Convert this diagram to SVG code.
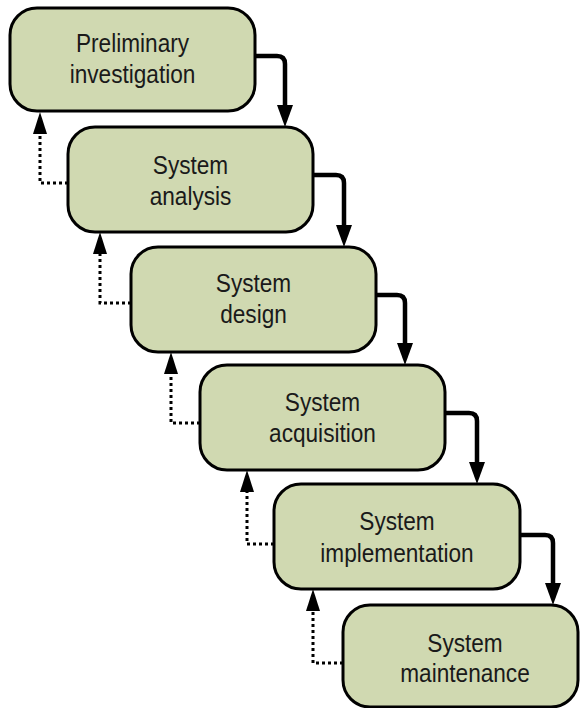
<svg xmlns="http://www.w3.org/2000/svg" width="580" height="708" viewBox="0 0 580 708">
  <defs>
    <style>
      .box { fill: #d0d9b1; stroke: #000; stroke-width: 3; }
      .lbl { font-family: "Liberation Sans", Arial, sans-serif; font-size: 26px; fill: #1a1a1a; text-anchor: middle; }
      .solid { fill: none; stroke: #000; stroke-width: 4.5; marker-end: url(#headSolid); }
      .dotted { fill: none; stroke: #000; stroke-width: 3; stroke-dasharray: 3 3; marker-end: url(#headDot); }
    </style>
    <marker id="headSolid" markerUnits="userSpaceOnUse" viewBox="0 0 22 16" markerWidth="22" markerHeight="16" refX="0" refY="8" orient="auto">
      <path d="M0,0 L22,8 L0,16 Z" fill="#000"/>
    </marker>
    <marker id="headDot" markerUnits="userSpaceOnUse" viewBox="0 0 22 14" markerWidth="22" markerHeight="14" refX="0" refY="7" orient="auto">
      <path d="M0,0 L22,7 L0,14 Z" fill="#000"/>
    </marker>
  </defs>
  <rect width="580" height="708" fill="#fff"/>

  <g id="connectors">
    <path class="solid" d="M255,56 H277 Q285,56 285,64 V105"/>
    <path class="solid" d="M313,175 H336 Q344,175 344,183 V225"/>
    <path class="solid" d="M376,295 H397 Q405,295 405,303 V343"/>
    <path class="solid" d="M445,413 H469 Q477,413 477,421 V462"/>
    <path class="solid" d="M520,535 H545 Q553,535 553,543 V583"/>
    <path class="dotted" d="M68,183 H40 V134"/>
    <path class="dotted" d="M131,303 H100 V254"/>
    <path class="dotted" d="M200,423 H171 V374"/>
    <path class="dotted" d="M274,544 H247 V492"/>
    <path class="dotted" d="M343,663 H313 V611"/>
  </g>

  <g id="preliminary-investigation">
    <rect class="box" x="10" y="8" width="245" height="103" rx="27"/>
    <text class="lbl" transform="translate(132.5,52) scale(0.87,1)">Preliminary</text>
    <text class="lbl" transform="translate(132.5,83) scale(0.87,1)">investigation</text>
  </g>
  <g id="system-analysis">
    <rect class="box" x="68" y="127" width="245" height="105" rx="27"/>
    <text class="lbl" transform="translate(190.5,174) scale(0.87,1)">System</text>
    <text class="lbl" transform="translate(190.5,205) scale(0.87,1)">analysis</text>
  </g>
  <g id="system-design">
    <rect class="box" x="131" y="247" width="245" height="105" rx="27"/>
    <text class="lbl" transform="translate(253.5,292) scale(0.87,1)">System</text>
    <text class="lbl" transform="translate(253.5,323) scale(0.87,1)">design</text>
  </g>
  <g id="system-acquisition">
    <rect class="box" x="200" y="365" width="245" height="105" rx="27"/>
    <text class="lbl" transform="translate(322.5,411) scale(0.87,1)">System</text>
    <text class="lbl" transform="translate(322.5,442) scale(0.87,1)">acquisition</text>
  </g>
  <g id="system-implementation">
    <rect class="box" x="274" y="484" width="246" height="105" rx="27"/>
    <text class="lbl" transform="translate(397,530) scale(0.87,1)">System</text>
    <text class="lbl" transform="translate(397,562) scale(0.87,1)">implementation</text>
  </g>
  <g id="system-maintenance">
    <rect class="box" x="343" y="605" width="235" height="102" rx="27"/>
    <text class="lbl" transform="translate(465,652) scale(0.87,1)">System</text>
    <text class="lbl" transform="translate(465,682) scale(0.87,1)">maintenance</text>
  </g>
</svg>
